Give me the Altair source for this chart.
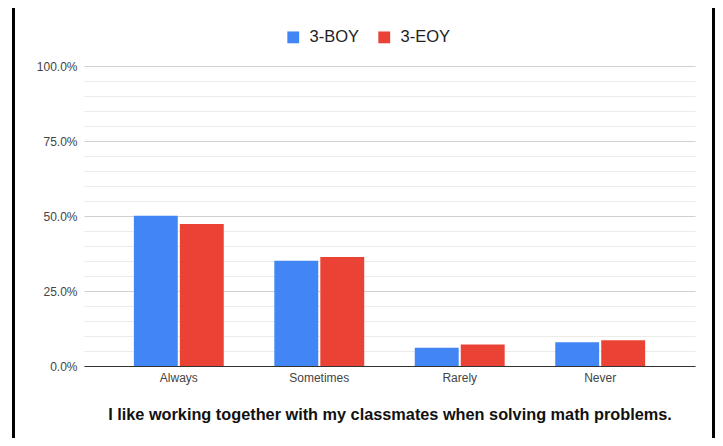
import altair as alt
import pandas as pd

categories = ["Always", "Sometimes", "Rarely", "Never"]
series = ["3-BOY", "3-EOY"]
boy_values = [50.1, 35.1, 6.1, 7.9]
eoy_values = [47.3, 36.3, 7.2, 8.6]
colors = ["#4285F4", "#EA4335"]
y_ticks = list(range(0, 101, 5))
title_text = "I like working together with my classmates when solving math problems."

rows = []
for c, b, e in zip(categories, boy_values, eoy_values):
    rows.append({"category": c, "series": series[0], "value": b})
    rows.append({"category": c, "series": series[1], "value": e})
df = pd.DataFrame(rows)

FONT = "Liberation Sans"

bars = alt.Chart(df).mark_bar().encode(
    x=alt.X(
        "category:N",
        sort=categories,
        title=title_text,
        scale=alt.Scale(paddingInner=0.36, paddingOuter=0.355),
        axis=alt.Axis(
            labelAngle=0,
            labelFont=FONT,
            labelFontSize=12,
            labelColor="#444444",
            labelPadding=6,
            ticks=False,
            tickSize=0,
            domainColor="#333333",
            domainWidth=1,
            grid=False,
            titleFont=FONT,
            titleFontSize=16.3,
            titleFontWeight="bold",
            titleColor="#111111",
            titlePadding=23,
        ),
    ),
    xOffset=alt.XOffset(
        "series:N",
        sort=series,
        scale=alt.Scale(paddingInner=0.045, paddingOuter=0),
    ),
    y=alt.Y(
        "value:Q",
        title=None,
        scale=alt.Scale(domain=[0, 100], nice=False),
        axis=alt.Axis(
            values=y_ticks,
            labelExpr="datum.value % 25 === 0 ? format(datum.value, '.1f') + '%' : ''",
            labelOverlap=False,
            labelFont=FONT,
            labelFontSize=12,
            labelColor="#444444",
            labelPadding=7,
            ticks=False,
            tickSize=0,
            domain=False,
            grid=True,
            gridColor={
                "condition": {"test": "datum.value % 25 === 0", "value": "#d0d0d0"},
                "value": "#ebebeb",
            },
            gridWidth=1,
        ),
    ),
    color=alt.Color(
        "series:N",
        sort=series,
        scale=alt.Scale(domain=series, range=colors),
        legend=alt.Legend(
            orient="none",
            legendX=201,
            legendY=-37,
            direction="horizontal",
            title=None,
            symbolType="square",
            symbolSize=140,
            symbolStrokeWidth=0,
            labelFont=FONT,
            labelFontSize=16.5,
            labelColor="#222222",
            labelOffset=8,
            columnPadding=16,
        ),
    ),
)

one = pd.DataFrame({"k": [0]})
frame_left = alt.Chart(one).mark_rule(color="#000000", strokeWidth=3, clip=False).encode(
    x=alt.value(-70.5), y=alt.value(-60), y2=alt.value(380)
)
frame_right = alt.Chart(one).mark_rule(color="#000000", strokeWidth=3, clip=False).encode(
    x=alt.value(629.5), y=alt.value(-60), y2=alt.value(380)
)

chart = alt.layer(bars, frame_left, frame_right).properties(
    width=611,
    height=300,
    autosize=alt.AutoSizeParams(type="none"),
    padding={"left": 76, "top": 58, "right": 20, "bottom": 72},
).configure_view(stroke=None)

chart.save("out.html", embed_options={"renderer": "svg", "actions": False})
